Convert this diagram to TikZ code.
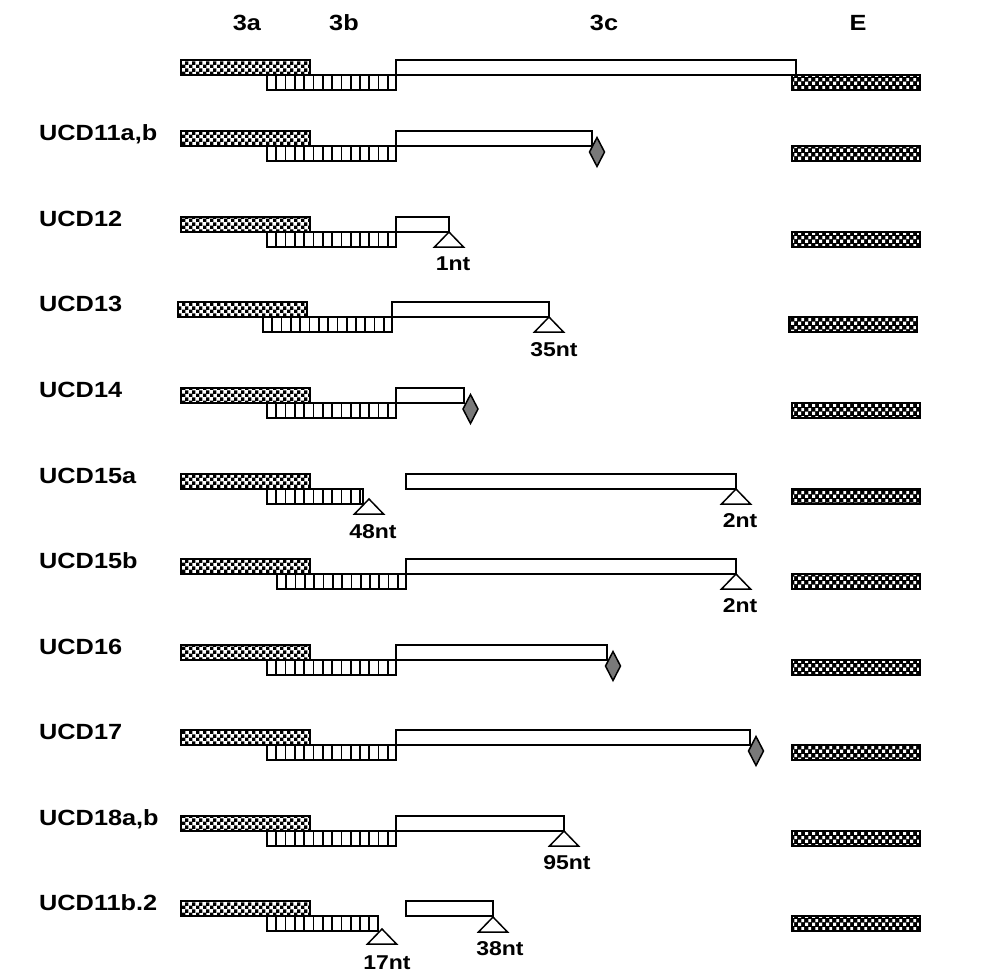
\documentclass[tikz,border=0pt]{standalone}
\usepackage{fontspec}
\setmainfont{Liberation Sans}[FakeStretch=1.15]
\usetikzlibrary{patterns}
\pgfdeclarepatternformonly{speck}{\pgfqpoint{0pt}{0pt}}{\pgfqpoint{7pt}{7pt}}{\pgfqpoint{7pt}{7pt}}{%
 \pgfpathrectangle{\pgfqpoint{0pt}{0pt}}{\pgfqpoint{3.75pt}{3.75pt}}%
 \pgfpathrectangle{\pgfqpoint{3.5pt}{3.5pt}}{\pgfqpoint{3.75pt}{3.75pt}}%
 \pgfusepath{fill}}
\pgfdeclarepatternformonly{echeck}{\pgfqpoint{0pt}{0pt}}{\pgfqpoint{7pt}{7.5pt}}{\pgfqpoint{7pt}{7.5pt}}{%
 \pgfpathrectangle{\pgfqpoint{0.25pt}{0.25pt}}{\pgfqpoint{3.25pt}{3.25pt}}%
 \pgfpathrectangle{\pgfqpoint{3.75pt}{4pt}}{\pgfqpoint{3.25pt}{3.25pt}}%
 \pgfusepath{fill}}
\tikzset{
 exa/.style={draw=black, line width=1.6pt, preaction={fill=white}, pattern=speck, pattern color=black},
 exb/.style={draw=black, line width=1.5pt, fill=white},
 exbl/.style={draw=black, line width=1.7pt},
 exc/.style={draw=black, line width=1.5pt, fill=white},
 exe/.style={draw=black, line width=1.5pt, preaction={fill=black}, pattern=echeck, pattern color=white},
 trs/.style={draw=black, line width=1.5pt, fill=white, line join=miter},
 dias/.style={draw=black, line width=1.5pt, fill=gray!95!black},
 lab/.style={font=\fontsize{22}{26}\selectfont\bfseries, inner sep=0pt},
 ntl/.style={font=\fontsize{20}{24}\selectfont\bfseries, inner sep=0pt, anchor=base},
}
% #1 top, #2 3a x0, #3 3b x0, #4 3b x1, #5 3c x0, #6 3c x1, #7 E x0
\newcommand\rowbars[7]{%
 \draw[exb] ({#3},{#1+15}) rectangle ({#4},{#1+30});
 \pgfmathtruncatemacro\nbars{floor((#4-#3-3)/9.3)}%
 \foreach \k in {1,...,\nbars} \draw[exbl] ({#3+9.3*\k},{#1+15}) -- ++(0,15);
 \draw[exa] ({#2},{#1}) rectangle ++(129,15);
 \draw[exc] ({#5},{#1}) rectangle ({#6},{#1+15});
 \draw[exe] ({#7},{#1+15}) rectangle ++(128,15);
}
\newcommand\tipTri[2]{\draw[trs] ({#1},{#2}) -- ++(-14.5,15) -- ++(29,0) -- cycle;}
\newcommand\tipDia[2]{\draw[dias] ({#1},{#2-14.5}) -- ++(7.5,14.5) -- ++(-7.5,14.5) -- ++(-7.5,-14.5) -- cycle;}
\begin{document}
\begin{tikzpicture}[x=1pt,y=-1pt]
\useasboundingbox (0,0) rectangle (1000,978);
% headers
\node[lab, anchor=base] (h3a) at (247,30) {3a};
\node[lab, anchor=base] (h3b) at (344,30) {3b};
\node[lab, anchor=base] (h3c) at (604,30) {3c};
\node[lab, anchor=base] (hE) at (858,30) {E};
% row 0
\rowbars{60}{181}{267}{396}{396}{796}{792}
% UCD11a,b
\node[lab, anchor=base west] (r1) at (39,140) {UCD11a,b};
\rowbars{131}{181}{267}{396}{396}{592}{792}
\tipDia{597}{152}
% UCD12
\node[lab, anchor=base west] (r2) at (39,226) {UCD12};
\rowbars{217}{181}{267}{396}{396}{449}{792}
\tipTri{449}{232}
\node[ntl] (n2) at (453,270) {1nt};
% UCD13
\node[lab, anchor=base west] (r3) at (39,311) {UCD13};
\rowbars{302}{178}{263}{392}{392}{549}{789}
\tipTri{549}{317}
\node[ntl] (n3) at (554,356) {35nt};
% UCD14
\node[lab, anchor=base west] (r4) at (39,397) {UCD14};
\rowbars{388}{181}{267}{396}{396}{464}{792}
\tipDia{470.5}{409}
% UCD15a
\node[lab, anchor=base west] (r5) at (39,483) {UCD15a};
\rowbars{474}{181}{267}{363}{406}{736}{792}
\tipTri{369}{499}
\node[ntl] (n5a) at (373,538) {48nt};
\tipTri{736}{489}
\node[ntl] (n5b) at (740,527) {2nt};
% UCD15b
\node[lab, anchor=base west] (r6) at (39,568) {UCD15b};
\rowbars{559}{181}{277}{406}{406}{736}{792}
\tipTri{736}{574}
\node[ntl] (n6) at (740,612) {2nt};
% UCD16
\node[lab, anchor=base west] (r7) at (39,654) {UCD16};
\rowbars{645}{181}{267}{396}{396}{607}{792}
\tipDia{613}{666}
% UCD17
\node[lab, anchor=base west] (r8) at (39,739) {UCD17};
\rowbars{730}{181}{267}{396}{396}{750}{792}
\tipDia{756}{751}
% UCD18a,b
\node[lab, anchor=base west] (r9) at (39,825) {UCD18a,b};
\rowbars{816}{181}{267}{396}{396}{564}{792}
\tipTri{564}{831}
\node[ntl] (n9) at (567,869) {95nt};
% UCD11b.2
\node[lab, anchor=base west] (r10) at (39,910) {UCD11b.2};
\rowbars{901}{181}{267}{378}{406}{493}{792}
\tipTri{382}{929}
\node[ntl] (n10a) at (387,969) {17nt};
\tipTri{493}{917}
\node[ntl] (n10b) at (500,955) {38nt};
\end{tikzpicture}
\end{document}
